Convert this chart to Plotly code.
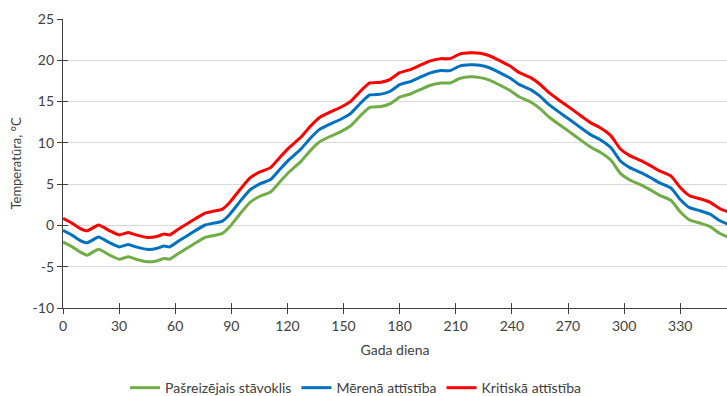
import plotly.graph_objects as go

# Day of year for each sample
days = [0, 5, 9, 13, 19, 25, 30, 35, 39, 45, 50, 54, 57, 61, 66, 71, 76, 80, 85, 89,
        95, 100, 105, 111, 116, 121, 127, 132, 137, 143, 148, 154, 159, 164, 170, 175,
        180, 186, 191, 196, 202, 207, 212, 218, 223, 228, 234, 239, 244, 250, 255, 260,
        266, 271, 277, 282, 287, 293, 298, 303, 309, 314, 319, 325, 330, 335, 341, 346,
        351, 356]

# Current state (°C)
current = [-2.0, -2.6, -3.2, -3.6, -2.9, -3.6, -4.1, -3.8, -4.1, -4.4, -4.3, -4.0, -4.1,
           -3.5, -2.8, -2.1, -1.45, -1.25, -1.0, -0.2, 1.5, 2.8, 3.5, 4.05, 5.3, 6.5, 7.7,
           9.0, 10.1, 10.8, 11.3, 12.1, 13.3, 14.3, 14.4, 14.75, 15.55, 15.95, 16.45,
           16.95, 17.25, 17.25, 17.8, 18.0, 17.9, 17.6, 16.95, 16.35, 15.55, 14.95, 14.15,
           13.1, 12.1, 11.3, 10.3, 9.5, 8.9, 7.9, 6.3, 5.5, 4.9, 4.3, 3.65, 3.05, 1.65,
           0.65, 0.25, -0.15, -0.95, -1.45]

# Moderate scenario (°C)
moderate = [-0.6, -1.2, -1.8, -2.1, -1.4, -2.1, -2.6, -2.3, -2.6, -2.9, -2.8, -2.5, -2.6,
            -2.0, -1.3, -0.6, 0.05, 0.25, 0.5, 1.3, 3.0, 4.3, 5.0, 5.55, 6.8, 8.0, 9.2,
            10.5, 11.6, 12.3, 12.8, 13.6, 14.8, 15.8, 15.9, 16.25, 17.05, 17.45, 17.95,
            18.45, 18.75, 18.75, 19.3, 19.45, 19.4, 19.1, 18.45, 17.85, 17.05, 16.45,
            15.65, 14.6, 13.6, 12.8, 11.8, 11.0, 10.4, 9.4, 7.8, 7.0, 6.4, 5.8, 5.15,
            4.55, 3.15, 2.15, 1.75, 1.35, 0.6, 0.1]

# Critical scenario (°C)
critical = [0.85, 0.25, -0.35, -0.65, 0.05, -0.65, -1.15, -0.85, -1.15, -1.45, -1.35,
            -1.05, -1.15, -0.55, 0.15, 0.85, 1.5, 1.7, 1.95, 2.75, 4.45, 5.75, 6.45, 7.0,
            8.25, 9.45, 10.65, 11.95, 13.05, 13.75, 14.25, 15.05, 16.25, 17.25, 17.35,
            17.7, 18.5, 18.9, 19.4, 19.9, 20.2, 20.2, 20.75, 20.9, 20.85, 20.55, 19.9,
            19.3, 18.5, 17.9, 17.1, 16.05, 15.05, 14.25, 13.25, 12.45, 11.85, 10.85, 9.25,
            8.45, 7.85, 7.25, 6.6, 6.0, 4.6, 3.6, 3.2, 2.8, 2.05, 1.6]

series_names = ["Pašreizējais stāvoklis", "Mērenā attīstība", "Kritiskā attīstība"]
series_colors = ["#70AD47", "#0070C0", "#FF0000"]
x_ticks = list(range(0, 331, 30))
y_ticks = list(range(-10, 26, 5))
y_tick_labels = [str(v) for v in y_ticks]  # plain hyphen-minus

FONT = "Lato"
AXIS_COLOR = "#404040"
TEXT_COLOR = "#404040"

fig = go.Figure()
for name, vals, color in zip(series_names, [current, moderate, critical], series_colors):
    fig.add_trace(go.Scatter(
        x=days, y=vals, mode="lines", name=name,
        line=dict(color=color, width=3, shape="spline", smoothing=0.4),
    ))

# empty trace to host the overlay axes that draw the inner half of the tick marks
fig.add_trace(go.Scatter(x=[None], y=[None], xaxis="x2", yaxis="y2",
                         showlegend=False, hoverinfo="skip"))

x_range = [0, 355]
y_range = [-10, 25]

fig.update_layout(
    width=727, height=396,
    margin=dict(l=63, r=0, t=19, b=88),
    paper_bgcolor="white", plot_bgcolor="white",
    font=dict(family=FONT, size=13, color=TEXT_COLOR),
    showlegend=True,
    legend=dict(
        orientation="h", xref="container", yref="container",
        x=0.172, y=0.02, xanchor="left", yanchor="middle",
        font=dict(family=FONT, size=14, color=TEXT_COLOR),
        itemwidth=30, tracegroupgap=0,
    ),
    xaxis=dict(
        range=x_range, tickvals=x_ticks, showgrid=False, zeroline=False,
        showline=True, linecolor=AXIS_COLOR, linewidth=1.3,
        ticks="outside", ticklen=5, tickcolor=AXIS_COLOR, tickwidth=1.3,
        tickfont=dict(family=FONT, size=14, color=TEXT_COLOR),
        title=dict(text="Gada diena", standoff=12,
                   font=dict(family=FONT, size=14, color=TEXT_COLOR)),
    ),
    yaxis=dict(
        range=y_range, tickvals=y_ticks, ticktext=y_tick_labels,
        showgrid=True, gridcolor="#D9D9D9", gridwidth=1, zeroline=False,
        showline=True, linecolor=AXIS_COLOR, linewidth=1.3,
        ticks="outside", ticklen=5, tickcolor=AXIS_COLOR, tickwidth=1.3,
        tickfont=dict(family=FONT, size=14, color=TEXT_COLOR),
        title=dict(text="Temperatūra, °C", standoff=8,
                   font=dict(family=FONT, size=13, color=TEXT_COLOR)),
    ),
    xaxis2=dict(
        overlaying="x", range=x_range, tickvals=x_ticks, showticklabels=False,
        showgrid=False, zeroline=False, showline=False, side="bottom",
        ticks="inside", ticklen=5, tickcolor=AXIS_COLOR, tickwidth=1.3,
    ),
    yaxis2=dict(
        overlaying="y", range=y_range, tickvals=y_ticks, showticklabels=False,
        showgrid=False, zeroline=False, showline=False, side="left",
        ticks="inside", ticklen=5, tickcolor=AXIS_COLOR, tickwidth=1.3,
    ),
)

fig.write_html("out.html")
